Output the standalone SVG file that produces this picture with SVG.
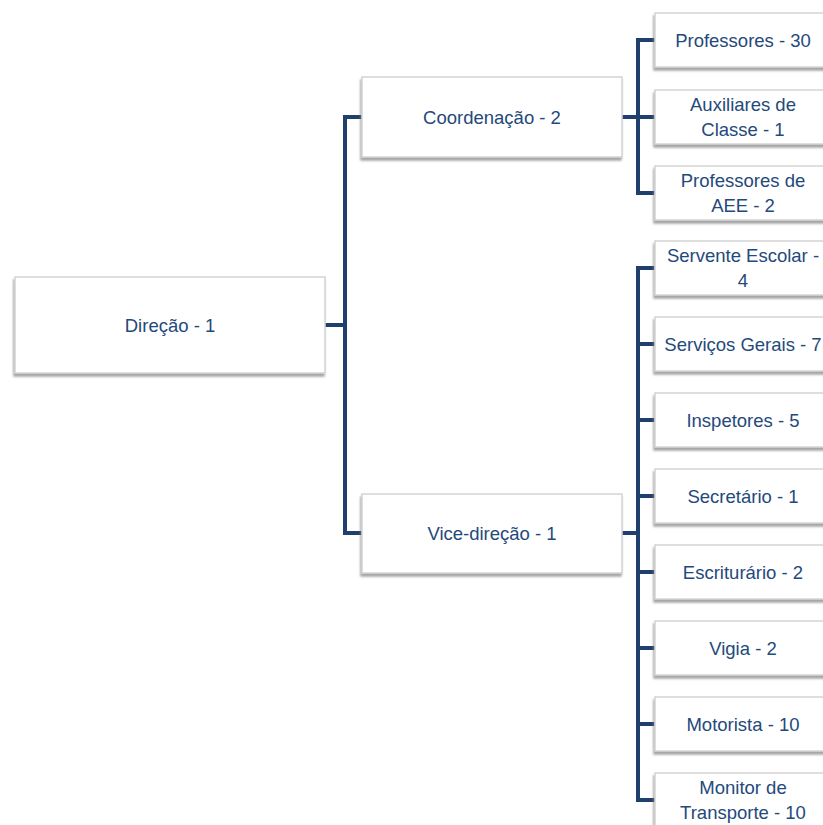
<svg xmlns="http://www.w3.org/2000/svg" width="823" height="825" viewBox="0 0 823 825">
<defs>
<filter id="sh" x="-10%" y="-20%" width="120%" height="150%">
<feDropShadow dx="-1" dy="3" stdDeviation="1.3" flood-color="#7f7f7f" flood-opacity="0.7"/>
</filter>
<style>
.box{fill:#ffffff;stroke:#d4d4d4;stroke-width:1.5;filter:url(#sh)}
.t{font-family:"Liberation Sans",Arial,sans-serif;font-size:18.5px;fill:#24497b;text-anchor:middle}
.c{fill:none;stroke:#1f3f6e;stroke-width:4;stroke-linejoin:miter}
</style>
</defs>
<rect width="823" height="825" fill="#ffffff"/>
<g id="connectors">
<path class="c" d="M325 325H345M362 117H345V533H362"/>
<path class="c" d="M622 117H638M655 40H638V193H655M638 117H655"/>
<path class="c" d="M622 533H638M655 268H638V800H655M638 344H655M638 420H655M638 496H655M638 572H655M638 648H655M638 724H655"/>
</g>
<g id="n-direcao"><rect class="box" x="15" y="277" width="310" height="96"/><text class="t" x="170" y="332">Direção - 1</text></g>
<g id="n-coordenacao"><rect class="box" x="362" y="77" width="260" height="80"/><text class="t" x="492" y="124">Coordenação - 2</text></g>
<g id="n-vice"><rect class="box" x="362" y="494" width="260" height="79"/><text class="t" x="492" y="540">Vice-direção - 1</text></g>
<g id="n-professores"><rect class="box" x="655" y="13" width="176" height="54"/><text class="t" x="743" y="47">Professores - 30</text></g>
<g id="n-auxiliares"><rect class="box" x="655" y="90" width="176" height="54"/><text class="t" x="743" y="111">Auxiliares de</text><text class="t" x="743" y="136">Classe - 1</text></g>
<g id="n-aee"><rect class="box" x="655" y="166" width="176" height="54"/><text class="t" x="743" y="187">Professores de</text><text class="t" x="743" y="212">AEE - 2</text></g>
<g id="n-servente"><rect class="box" x="655" y="241" width="176" height="54"/><text class="t" x="743" y="262">Servente Escolar -</text><text class="t" x="743" y="287">4</text></g>
<g id="n-servicos"><rect class="box" x="655" y="317" width="176" height="54"/><text class="t" x="743" y="351">Serviços Gerais - 7</text></g>
<g id="n-inspetores"><rect class="box" x="655" y="393" width="176" height="54"/><text class="t" x="743" y="427">Inspetores - 5</text></g>
<g id="n-secretario"><rect class="box" x="655" y="469" width="176" height="54"/><text class="t" x="743" y="503">Secretário - 1</text></g>
<g id="n-escriturario"><rect class="box" x="655" y="545" width="176" height="54"/><text class="t" x="743" y="579">Escriturário - 2</text></g>
<g id="n-vigia"><rect class="box" x="655" y="621" width="176" height="54"/><text class="t" x="743" y="655">Vigia - 2</text></g>
<g id="n-motorista"><rect class="box" x="655" y="697" width="176" height="54"/><text class="t" x="743" y="731">Motorista - 10</text></g>
<g id="n-monitor"><rect class="box" x="655" y="773" width="176" height="54"/><text class="t" x="743" y="794">Monitor de</text><text class="t" x="743" y="819">Transporte - 10</text></g>
</svg>
